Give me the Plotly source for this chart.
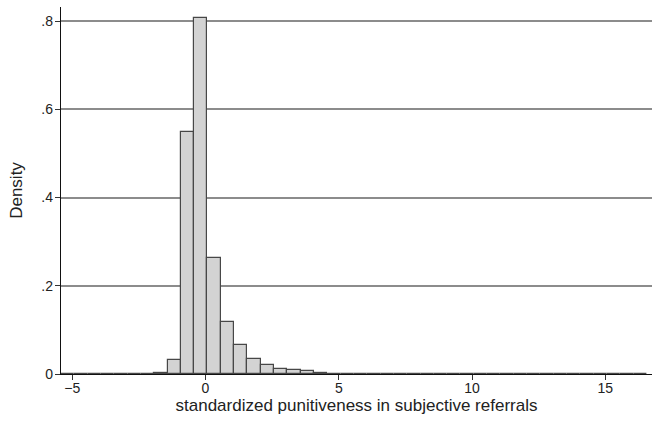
import plotly.graph_objects as go

# Histogram bins (Stata-style): start, width, densities per bin
bin_start = -5.42
bin_width = 0.4995
density = [
    0.0, 0.0, 0.0008, 0.0, 0.0008, 0.0008, 0.0, 0.003,
    0.0317, 0.549, 0.808, 0.264, 0.1176, 0.0647, 0.034, 0.0195,
    0.012, 0.008, 0.006, 0.002, 0.0008, 0.0004, 0.0, 0.0004,
    0.0004, 0.0004, 0.0004, 0.0004, 0.0004, 0.0008, 0.0008, 0.0008,
    0.0008, 0.0008, 0.0004, 0.0008, 0.0008, 0.0, 0.0, 0.0,
    0.0, 0.0, 0.0, 0.0008,
]
x_ticks = [-5, 0, 5, 10, 15]
x_tick_labels = ["\u22125", "0", "5", "10", "15"]
y_ticks = [0, 0.2, 0.4, 0.6, 0.8]
y_tick_labels = ["0", ".2", ".4", ".6", ".8"]

centers = [bin_start + (i + 0.5) * bin_width for i in range(len(density))]

fig = go.Figure()
fig.add_trace(go.Bar(
    x=centers, y=density, width=bin_width,
    marker=dict(color="#d3d3d3", line=dict(color="#474747", width=1.2)),
    showlegend=False,
))

font = dict(family="Liberation Sans, Arial, sans-serif", size=14, color="#222")
fig.update_layout(
    width=654, height=423,
    margin=dict(l=61, r=2, t=7, b=49),
    paper_bgcolor="white", plot_bgcolor="white",
    font=font,
    bargap=0,
)
fig.update_xaxes(
    range=[bin_start, bin_start + (652 - 60.5) / 26.68],
    tickmode="array", tickvals=x_ticks, ticktext=x_tick_labels,
    ticks="outside", ticklen=5, tickcolor="#333", tickwidth=1,
    ticklabelstandoff=-4,
    showline=True, linecolor="#111", linewidth=1.3,
    showgrid=False, zeroline=False,
    title=dict(text="standardized punitiveness in subjective referrals", standoff=4),
)
fig.update_yaxes(
    range=[0, 0.832],
    tickmode="array", tickvals=y_ticks, ticktext=y_tick_labels,
    ticks="outside", ticklen=5, tickcolor="#333", tickwidth=1,
    ticklabelstandoff=-1,
    showline=True, linecolor="#111", linewidth=1.3,
    showgrid=True, gridcolor="#8c8c8c", gridwidth=1.5,
    zeroline=False,
    title=dict(text="Density", standoff=14),
)
fig.write_html("out.html", config={"displayModeBar": False},
               post_script="document.body.style.margin='0';")
